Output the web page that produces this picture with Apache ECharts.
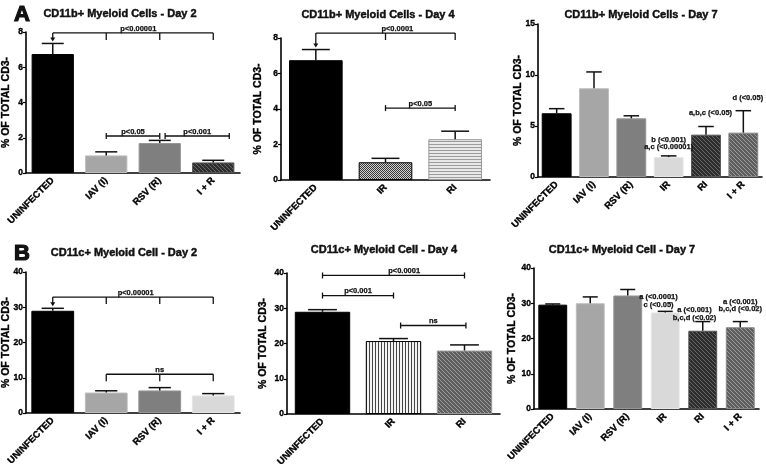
<!DOCTYPE html>
<html>
<head>
<meta charset="utf-8">
<script src="https://cdn.jsdelivr.net/npm/echarts@6/dist/echarts.min.js"></script>
<style>
  html, body { margin: 0; background: #fff; }
  #chart { width: 766px; height: 472px; }
</style>
</head>
<body>
<div id="chart"></div>
<script>
// ---------- data ----------
const catA1 = ['UNINFECTED', 'IAV (I)', 'RSV (R)', 'I + R'];
const meanA1 = [6.75, 1.0, 1.7, 0.6];
const semA1 = [0.6, 0.2, 0.15, 0.12];

const catA2 = ['UNINFECTED', 'IR', 'RI'];
const meanA2 = [6.75, 1.0, 2.3];
const semA2 = [0.6, 0.22, 0.45];

const catA3 = ['UNINFECTED', 'IAV (I)', 'RSV (R)', 'IR', 'RI', 'I + R'];
const meanA3 = [6.25, 8.7, 5.75, 1.95, 4.15, 4.35];
const semA3 = [0.45, 1.6, 0.25, 0.12, 0.8, 2.15];

const catB1 = ['UNINFECTED', 'IAV (I)', 'RSV (R)', 'I + R'];
const meanB1 = [29.0, 5.8, 6.4, 5.0];
const semB1 = [0.7, 0.5, 0.8, 0.5];

const catB2 = ['UNINFECTED', 'IR', 'RI'];
const meanB2 = [29.0, 20.7, 18.0];
const semB2 = [0.6, 0.7, 1.6];

const catB3 = ['UNINFECTED', 'IAV (I)', 'RSV (R)', 'IR', 'RI', 'I + R'];
const meanB3 = [29.6, 30.0, 32.2, 27.4, 22.2, 23.2];
const semB3 = [0.2, 1.8, 1.7, 0.3, 2.6, 1.6];

const titles = [
  'CD11b+ Myeloid Cells - Day 2', 'CD11b+ Myeloid Cells - Day 4', 'CD11b+ Myeloid Cells - Day 7',
  'CD11c+ Myeloid Cell - Day 2', 'CD11c+ Myeloid Cell - Day 4', 'CD11c+ Myeloid Cell - Day 7'
];
const yName = '% OF TOTAL CD3-';
const yMax = [8, 8, 15, 40, 40, 40];
const yStep = [2, 2, 5, 10, 10, 10];

// significance brackets, in category / value units
const bracketsA1 = [
  { from: 0, to: 3, y: 7.95, text: 'p<0.00001', kind: 'top', drops: [1, 2, 3], arrow: 0, lx: 1.6 },
  { from: 1, to: 2, y: 2.1, text: 'p<0.05', kind: 'cap' },
  { from: 2.1, to: 3.3, y: 2.1, text: 'p<0.001', kind: 'cap' }
];
const bracketsA2 = [
  { from: 0, to: 2, y: 8.28, text: 'p<0.0001', kind: 'top', drops: [1, 2], arrow: 0, lx: 1.17 },
  { from: 1, to: 2, y: 4.05, text: 'p<0.05', kind: 'cap' }
];
const bracketsB1 = [
  { from: 0, to: 3, y: 32.9, text: 'p<0.00001', kind: 'top', drops: [1, 2, 3], arrow: 0, lx: 1.55 },
  { from: 1, to: 3, y: 11.0, text: 'ns', kind: 'top', drops: [1, 2, 3], lx: 2 }
];
const bracketsB2 = [
  { from: 0, to: 2, y: 39.3, text: 'p<0.0001', kind: 'cap', lx: 1.15 },
  { from: 0, to: 1, y: 33.6, text: 'p<0.001', kind: 'cap', lx: 0.5 },
  { from: 1.1, to: 2.02, y: 25.1, text: 'ns', kind: 'cap' }
];

// letter annotations above bars
const notesA3 = [
  { x: 3, y: 3.3, text: 'b (<0.001)\na,c (<0.00001)' },
  { x: 4.12, y: 6.3, text: 'a,b,c (<0.05)' },
  { x: 5.12, y: 7.8, text: 'd (<0.05)' }
];
const notesB3 = [
  { x: 2.82, y: 30.7, text: 'a (<0.0001)\nc (<0.05)' },
  { x: 3.78, y: 27.0, text: 'a (<0.001)\nb,c,d (<0.02)' },
  { x: 5.0, y: 29.4, text: 'a (<0.001)\nb,c,d (<0.02)' }
];

// ---------- styles ----------
const FONT = '"Liberation Sans", Arial, sans-serif';
function pattern(w, h, bg, draw) {
  const c = document.createElement('canvas');
  c.width = w; c.height = h;
  const g = c.getContext('2d');
  g.fillStyle = bg; g.fillRect(0, 0, w, h);
  draw(g);
  return { image: c, repeat: 'repeat' };
}
function hatch(bg, fg) {
  return pattern(4, 4, bg, g => {
    g.strokeStyle = fg; g.lineWidth = 1;
    g.beginPath();
    g.moveTo(0, 0); g.lineTo(4, 4);
    g.moveTo(-1, 3); g.lineTo(1, 5);
    g.moveTo(3, -1); g.lineTo(5, 1);
    g.stroke();
  });
}
const checker = pattern(2, 2, '#cfcfcf', g => { g.fillStyle = '#3a3a3a'; g.fillRect(0, 0, 1, 1); g.fillRect(1, 1, 1, 1); });
const hStripe = pattern(1, 3, '#e8e8e8', g => { g.fillStyle = '#9c9c9c'; g.fillRect(0, 0, 1, 1); });
const vStripe = pattern(3, 1, '#f4f4f4', g => { g.fillStyle = '#444'; g.fillRect(0, 0, 1, 1); });
const hatchDark = hatch('#2e2e2e', '#666');
const hatchMid = hatch('#5e5e5e', '#9a9a9a');

const BLK = { c: '#000', b: '#000' };
const G1 = { c: '#a6a6a6', b: '#bcbcbc' };
const G2 = { c: '#7f7f7f', b: '#959595' };
const G3 = { c: '#d9d9d9', b: '#e6e6e6' };
const colorsA1 = [BLK, G1, G2, { c: hatchDark, b: '#555' }];
const colorsA2 = [BLK, { c: checker, b: '#000' }, { c: hStripe, b: '#999' }];
const colorsA3 = [BLK, G1, G2, G3, { c: hatchDark, b: '#555' }, { c: hatchMid, b: '#888' }];
const colorsB1 = [BLK, G1, G2, G3];
const colorsB2 = [BLK, { c: vStripe, b: '#000' }, { c: hatchMid, b: '#999' }];
const colorsB3 = [BLK, G1, G2, G3, { c: hatchDark, b: '#555' }, { c: hatchMid, b: '#888' }];

const panels = [
  { cats: catA1, mean: meanA1, sem: semA1, colors: colorsA1, brackets: bracketsA1, notes: [],
    grid: { left: 26, top: 32, width: 214, height: 141 }, gap: '21%', nameGap: 14, tx: 120, ty: 14 },
  { cats: catA2, mean: meanA2, sem: semA2, colors: colorsA2, brackets: bracketsA2, notes: [],
    grid: { left: 281, top: 38, width: 209, height: 142 }, gap: '23%', nameGap: 17, tx: 378, ty: 15 },
  { cats: catA3, mean: meanA3, sem: semA3, colors: colorsA3, brackets: [], notes: notesA3,
    grid: { left: 538, top: 24, width: 224, height: 153 }, gap: '20%', nameGap: 14, tx: 641, ty: 15 },
  { cats: catB1, mean: meanB1, sem: semB1, colors: colorsB1, brackets: bracketsB1, notes: [],
    grid: { left: 26, top: 272, width: 214, height: 141 }, gap: '20%', nameGap: 14, tx: 124, ty: 253 },
  { cats: catB2, mean: meanB2, sem: semB2, colors: colorsB2, brackets: bracketsB2, notes: [],
    grid: { left: 287, top: 273, width: 213, height: 141 }, gap: '22%', nameGap: 18, tx: 384, ty: 250 },
  { cats: catB3, mean: meanB3, sem: semB3, colors: colorsB3, brackets: [], notes: notesB3,
    grid: { left: 534, top: 268, width: 225, height: 141 }, gap: '23%', nameGap: 16, tx: 622, ty: 250 }
];

// heavy text: fill plus a thin outline of the same colour
function txt(text, x, y, size, align, vAlign, weight) {
  return { text, x, y, font: 'bold ' + size + 'px ' + FONT, fill: '#111',
    stroke: '#111', lineWidth: weight == null ? 0.35 : weight,
    align, verticalAlign: vAlign, textAlign: align, textVerticalAlign: vAlign, lineHeight: size };
}
function ln(x1, y1, x2, y2, w) {
  return { type: 'line', shape: { x1, y1, x2, y2 }, style: { stroke: '#111', lineWidth: w || 1.3 } };
}
const heavy = { fontWeight: 'bold', color: '#000', fontFamily: FONT, textBorderColor: '#000', textBorderWidth: 0.35 };

const grids = [], xAxes = [], yAxes = [], series = [], graphics = [];

panels.forEach((p, k) => {
  grids.push(Object.assign({ outerBoundsMode: 'none', containLabel: false }, p.grid));
  xAxes.push({
    type: 'category', gridIndex: k, data: p.cats,
    axisLine: { lineStyle: { color: '#000', width: 1.6 } },
    axisTick: { alignWithLabel: true, length: 3, lineStyle: { color: '#000', width: 1.2 } },
    axisLabel: Object.assign({ rotate: 45, interval: 0, margin: 6, fontSize: 9.5 }, heavy)
  });
  yAxes.push({
    type: 'value', gridIndex: k, min: 0, max: yMax[k], interval: yStep[k],
    splitLine: { show: false },
    axisLine: { show: true, lineStyle: { color: '#000', width: 1.6 } },
    axisTick: { show: true, length: 3, lineStyle: { color: '#000', width: 1.2 } },
    axisLabel: Object.assign({ margin: 3, fontSize: 8.5 }, heavy),
    name: yName, nameLocation: 'middle', nameGap: p.nameGap, nameMoveOverlap: false,
    nameTextStyle: Object.assign({ fontSize: 10.5 }, heavy)
  });

  const frac = 1 - parseFloat(p.gap) / 100;
  series.push({
    type: 'bar', xAxisIndex: k, yAxisIndex: k, barCategoryGap: p.gap, silent: true,
    data: p.mean.map((m, i) => ({
      value: m,
      itemStyle: { color: p.colors[i].c, borderColor: p.colors[i].b, borderWidth: 1 }
    }))
  });
  series.push({
    type: 'custom', xAxisIndex: k, yAxisIndex: k, silent: true, z: 5,
    data: p.mean.map((m, i) => [i, m + p.sem[i], m]),
    encode: { x: 0, y: 1 },
    renderItem: (params, api) => {
      const i = api.value(0);
      const top = api.coord([i, api.value(1)]);
      const base = api.coord([i, api.value(2)]);
      const hw = api.size([1, 0])[0] * frac * 0.26;
      return { type: 'group', children: [
        ln(top[0], base[1], top[0], top[1], 1.5),
        ln(top[0] - hw, top[1], top[0] + hw, top[1], 1.5)
      ] };
    }
  });
  if (p.brackets.length) {
    series.push({
      type: 'custom', xAxisIndex: k, yAxisIndex: k, silent: true, z: 6, clip: false,
      data: p.brackets.map(b => [b.from, b.y]),
      encode: { x: 0, y: 1 },
      renderItem: (params, api) => {
        const b = p.brackets[params.dataIndex];
        const o = api.coord([0, b.y]);
        const bw = api.size([1, 0])[0];
        const X = c => o[0] + c * bw;
        const y = o[1];
        const kids = [ln(X(b.from), y, X(b.to), y)];
        if (b.kind === 'cap') {
          kids.push(ln(X(b.from), y - 3, X(b.from), y + 3), ln(X(b.to), y - 3, X(b.to), y + 3));
        } else {
          b.drops.forEach(c => kids.push(ln(X(c), y, X(c), y + 7)));
          if (b.arrow != null) {
            const tip = api.coord([b.arrow, p.mean[b.arrow] + p.sem[b.arrow]])[1] - 2;
            const ax = X(b.arrow);
            kids.push(ln(ax, y, ax, tip - 3));
            kids.push({ type: 'polygon', shape: { points: [[ax - 2.5, tip - 4], [ax + 2.5, tip - 4], [ax, tip]] },
              style: { fill: '#111' } });
          }
        }
        const lx = b.lx != null ? b.lx : (b.from + b.to) / 2;
        kids.push({ type: 'text', style: txt(b.text, X(lx), y - 0.5, 7.5, 'center', 'bottom', 0.25) });
        return { type: 'group', children: kids };
      }
    });
  }
  if (p.notes.length) {
    series.push({
      type: 'custom', xAxisIndex: k, yAxisIndex: k, silent: true, z: 6, clip: false,
      data: p.notes.map(n => [n.x, n.y]),
      encode: { x: 0, y: 1 },
      renderItem: (params, api) => {
        const n = p.notes[params.dataIndex];
        const o = api.coord([0, n.y]);
        const bw = api.size([1, 0])[0];
        return { type: 'text', style: txt(n.text, o[0] + n.x * bw, o[1], 7.5, 'center', 'middle', 0.25) };
      }
    });
  }
  graphics.push({ type: 'text', silent: true, style: txt(titles[k], p.tx, p.ty, 11, 'center', 'middle', 0.45) });
});

graphics.push({ type: 'text', silent: true, style: Object.assign(txt('A', 22, 15, 22, 'center', 'middle', 1.2), { font: '900 22px ' + FONT }) });
graphics.push({ type: 'text', silent: true, style: Object.assign(txt('B', 22, 254, 22, 'center', 'middle', 1.2), { font: '900 22px ' + FONT }) });

const myChart = echarts.init(document.getElementById('chart'), null, { renderer: 'canvas' });
myChart.setOption({
  animation: false,
  backgroundColor: '#fff',
  grid: grids,
  xAxis: xAxes,
  yAxis: yAxes,
  series: series,
  graphic: graphics
});
</script>
</body>
</html>
